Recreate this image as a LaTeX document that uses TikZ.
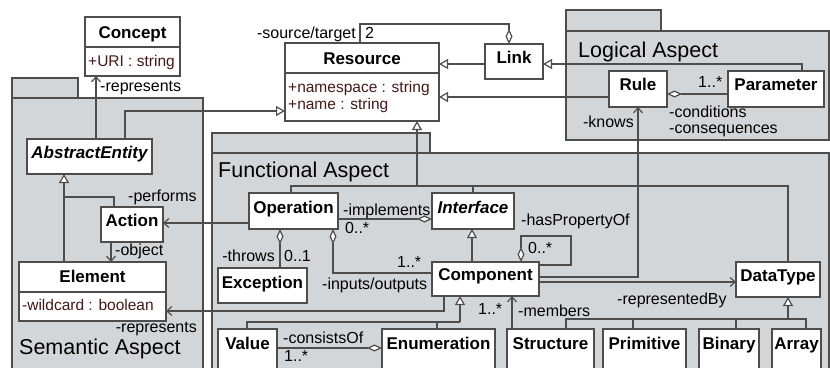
\documentclass[tikz,border=0pt]{standalone}
\usepackage{fontspec}
\setmainfont{Liberation Sans}
\usetikzlibrary{arrows.meta}
\definecolor{pkgfill}{RGB}{211,214,216}
\definecolor{ln}{RGB}{77,77,77}
\definecolor{attr}{RGB}{70,25,25}
\begin{document}
\begin{tikzpicture}[x=1pt,y=-1pt,
  box/.style={draw=ln, line width=1.2pt, fill=white, anchor=north west, inner sep=0pt, outer sep=0pt},
  pkg/.style={draw=ln, line width=1.2pt, fill=pkgfill},
  ttl/.style={font=\fontsize{17}{17}\selectfont\bfseries, inner sep=0pt, text height=12.2pt, text depth=0pt},
  ittl/.style={ttl, font=\fontsize{17}{17}\selectfont\bfseries\itshape},
  lbl/.style={font=\fontsize{16}{16}\selectfont, inner sep=0pt, text height=11.5pt, text depth=0pt},
  lw/.style={lbl, anchor=west},
  le/.style={lbl, anchor=east},
  att/.style={lbl, font=\fontsize{15.5}{15.5}\selectfont, text=attr, anchor=west},
  pname/.style={font=\fontsize{21.5}{21.5}\selectfont, inner sep=0pt, anchor=west, text height=15.4pt, text depth=0pt},
  con/.style={draw=ln, line width=1.2pt},
  gen/.style={con, -{Triangle[fill=white, length=9pt, width=10pt]}},
  nav/.style={con, -{Straight Barb[length=5pt, width=9pt]}},
  agg/.style={con, {Diamond[fill=white, length=15pt, width=7pt]}-},
]
\useasboundingbox (0,0) rectangle (830,367);
\clip (0,0) rectangle (830,367);
\fill[white] (0,0) rectangle (830,367);

% packages
\draw[pkg] (12,78) rectangle (78,98);
\draw[pkg] (12,98) rectangle (203,380);
\draw[pkg] (566,10) rectangle (661,31);
\draw[pkg] (566,31) rectangle (829,140);
\draw[pkg] (212,133) rectangle (430,153);
\draw[pkg] (212,153) rectangle (829,380);
\node[pname] (pLogical) at (578,50) {Logical Aspect};
\node[pname] (pFunctional) at (218,170) {Functional Aspect};
\node[pname] (pSemantic) at (19,347) {Semantic Aspect};

% boxes
\node[box, minimum width=95pt, minimum height=59pt] (Concept) at (85,17) {};
\node[box, minimum width=154pt, minimum height=78pt] (Resource) at (285,43) {};
\node[box, minimum width=58pt, minimum height=35pt] (Link) at (485,44) {};
\node[box, minimum width=58pt, minimum height=36pt] (Rule) at (609,71) {};
\node[box, minimum width=96pt, minimum height=36pt] (Parameter) at (728,71) {};
\node[box, minimum width=125pt, minimum height=35pt] (AbstractEntity) at (27,139) {};
\node[box, minimum width=62pt, minimum height=35pt] (Action) at (101,207) {};
\node[box, minimum width=147pt, minimum height=59pt] (Element) at (19,262) {};
\node[box, minimum width=89pt, minimum height=36pt] (Operation) at (249,193) {};
\node[box, minimum width=82pt, minimum height=36pt] (Interface) at (432,193) {};
\node[box, minimum width=89pt, minimum height=35pt] (Exception) at (218,268) {};
\node[box, minimum width=107pt, minimum height=34pt] (Component) at (432,262) {};
\node[box, minimum width=84pt, minimum height=35pt] (DataType) at (736,262) {};
\node[box, minimum width=59pt, minimum height=45pt] (Value) at (218,329) {};
\node[box, minimum width=113pt, minimum height=45pt] (Enumeration) at (382,329) {};
\node[box, minimum width=87pt, minimum height=45pt] (Structure) at (507,329) {};
\node[box, minimum width=83pt, minimum height=45pt] (Primitive) at (603,329) {};
\node[box, minimum width=60pt, minimum height=45pt] (Binary) at (699,329) {};
\node[box, minimum width=49pt, minimum height=45pt] (Array) at (772,329) {};

% compartments
\draw[con] (Concept.west |- 0,47) -- (Concept.east |- 0,47);
\draw[con] (Resource.west |- 0,73) -- (Resource.east |- 0,73);
\draw[con] (Element.west |- 0,292) -- (Element.east |- 0,292);

% titles
\node[ttl] (tConcept) at (Concept.north |- 0,32) {Concept};
\node[ttl] (tResource) at (Resource.north |- 0,58) {Resource};
\node[ttl] (tLink) at (Link.north |- 0,57) {Link};
\node[ttl] (tRule) at (Rule.north |- 0,84) {Rule};
\node[ttl] (tParameter) at (Parameter.north |- 0,84) {Parameter};
\node[ittl] (tAbstractEntity) at (AbstractEntity.north |- 0,152) {AbstractEntity};
\node[ttl] (tAction) at (Action.north |- 0,220) {Action};
\node[ttl] (tElement) at (Element.north |- 0,276) {Element};
\node[ttl] (tOperation) at (Operation.north |- 0,207) {Operation};
\node[ittl] (tInterface) at (Interface.north |- 0,207) {Interface};
\node[ttl] (tException) at (Exception.north |- 0,282) {Exception};
\node[ttl] (tComponent) at (Component.north |- 0,274) {Component};
\node[ttl] (tDataType) at (DataType.north |- 0,275) {DataType};
\node[ttl] (tValue) at (Value.north |- 0,343) {Value};
\node[ttl] (tEnumeration) at (Enumeration.north |- 0,343) {Enumeration};
\node[ttl] (tStructure) at (Structure.north |- 0,343) {Structure};
\node[ttl] (tPrimitive) at (Primitive.north |- 0,343) {Primitive};
\node[ttl] (tBinary) at (Binary.north |- 0,343) {Binary};
\node[ttl] (tArray) at (Array.north |- 0,343) {Array};

% attributes
\node[att] (aURI) at (88,61) {+URI : string};
\node[att] (aNamespace) at (288,87) {+namespace : string};
\node[att] (aName) at (288,104) {+name : string};
\node[att] (aWildcard) at (22,305) {-wildcard : boolean};

% connectors
\draw[nav] (96,0 |- AbstractEntity.north) -- (96,0 |- Concept.south);
\draw[gen] (125,0 |- AbstractEntity.north) |- (Resource.west |- 0,111);
\draw[gen] (Link.west |- 0,64) -- (Resource.east |- 0,64);
\draw[gen] (Rule.west |- 0,97) -- (Resource.east |- 0,97);
\draw[gen] (802,0 |- Parameter.north) |- (Link.east |- 0,64);
\draw[agg] (509,0 |- Link.north) |- (360,24) -- (360,0 |- Resource.north);
\draw[agg] (Rule.east |- 0,94) -- (Parameter.west |- 0,94);
\draw[nav] (Component.east |- 0,277) -| (638,0 |- Rule.south);
\draw[gen] (417,186) -- (417,0 |- Resource.south);
\draw[con] (291,0 |- Operation.north) |- (788,186) -- (788,0 |- DataType.north);
\draw[con] (473,0 |- Interface.north) -- (473,186);
\draw[gen] (64,0 |- Element.north) -- (64,0 |- AbstractEntity.south);
\draw[con] (64,197) -| (114,0 |- Action.north);
\draw[nav] (111,0 |- Action.south) -- (111,0 |- Element.north);
\draw[nav] (Operation.west |- 0,223) -- (Action.east |- 0,223);
\draw[agg] (Interface.west |- 0,219) -- (Operation.east |- 0,219);
\draw[agg] (280,0 |- Operation.south) -- (280,0 |- Exception.north);
\draw[agg] (333,0 |- Operation.south) |- (Component.west |- 0,273);
\draw[gen] (472,0 |- Component.north) -- (472,0 |- Interface.south);
\draw[agg] (521,0 |- Component.north) |- (571,236) |- (Component.east |- 0,265);
\draw[nav] (Component.east |- 0,282) -- (DataType.west |- 0,282);
\draw[nav] (444,0 |- Component.south) |- (Element.east |- 0,311);
\draw[nav] (512,0 |- Structure.north) -- (512,0 |- Component.south);
\draw[gen] (460,322) -- (460,0 |- Component.south);
\draw[con] (247,0 |- Value.north) |- (460,322);
\draw[con] (437,0 |- Enumeration.north) -- (437,322);
\draw[agg] (Enumeration.west |- 0,348) -- (Value.east |- 0,348);
\draw[gen] (788,319) -- (788,0 |- DataType.south);
\draw[con] (566,0 |- Structure.north) |- (806,319) -- (806,0 |- Array.north);
\draw[con] (633,0 |- Primitive.north) -- (633,319);
\draw[con] (736,0 |- Binary.north) -- (736,319);

% connector labels
\node[lw] (lRep1) at (100,86) {-represents};
\node[le] (lSrc) at (356,33) {-source/target};
\node[lw] (lTwo) at (365,33) {2};
\node[lw] (lMulParam) at (698,82) {1..*};
\node[lw] (lCond) at (669,112) {-conditions};
\node[lw] (lConseq) at (669,127.5) {-consequences};
\node[le] (lKnows) at (634,122) {-knows};
\node[lw] (lPerforms) at (128,196) {-performs};
\node[lw] (lObject) at (115,250) {-object};
\node[lw] (lImpl) at (343,210) {-implements};
\node[lw] (lImplMul) at (345,228) {0..*};
\node[lw] (lHasProp) at (521,220) {-hasPropertyOf};
\node[lw] (lSelfMul) at (528,248) {0..*};
\node[le] (lThrows) at (275,256) {-throws};
\node[lw] (lThrowsMul) at (284,256) {0..1};
\node[lw] (lIOMul) at (397,262) {1..*};
\node[lw] (lIO) at (322,284) {-inputs/outputs};
\node[lw] (lRepBy) at (617,299) {-representedBy};
\node[le] (lRep2) at (197,327) {-represents};
\node[lw] (lMemMul) at (478,309) {1..*};
\node[lw] (lMembers) at (518,311) {-members};
\node[lw] (lConsists) at (283,338) {-consistsOf};
\node[lw] (lConsMul) at (284,356) {1..*};
\end{tikzpicture}
\end{document}
